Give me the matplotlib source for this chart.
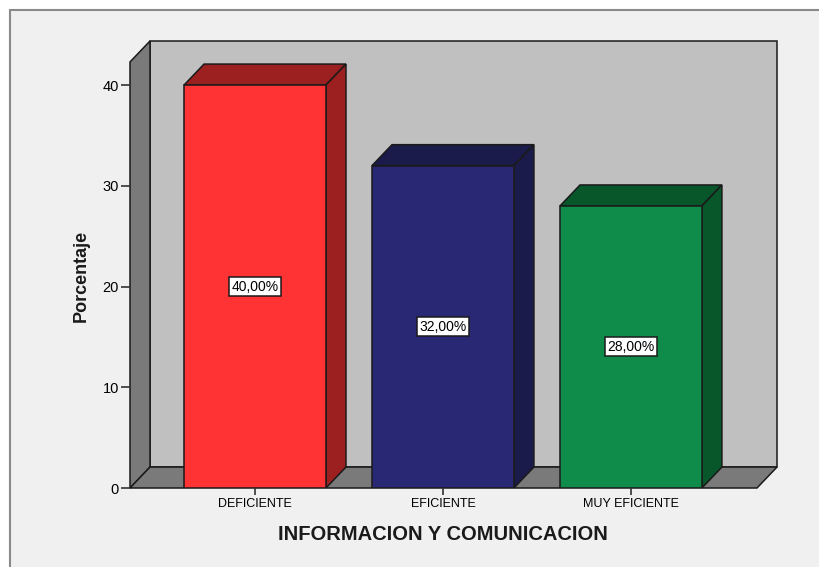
"""SPSS style 3D bar chart: INFORMACION Y COMUNICACION."""

import matplotlib.pyplot as plt
from matplotlib.patches import Polygon, Rectangle

categories = ["DEFICIENTE", "EFICIENTE", "MUY EFICIENTE"]
percentages = [40.0, 32.0, 28.0]
y_ticks = [0, 10, 20, 30, 40]

front_colors = ["#FF3333", "#282874", "#0F8C49"]
shade_colors = ["#9C2020", "#1B1B4B", "#07572B"]

plt.rcParams["font.family"] = ["Liberation Sans", "DejaVu Sans"]

W, H = 820, 567
fig = plt.figure(figsize=(W / 100, H / 100), dpi=100, facecolor="white")

# outer frame of the SPSS viewer
fig.patches.append(Rectangle((10 / W, -0.1), 1.2, 1 - 10 / H + 0.1, transform=fig.transFigure,
                             facecolor="#F0F0F0", edgecolor="#8A8A8A", linewidth=1.5, zorder=-5))

ax = fig.add_axes([130 / W, 79 / H, 647 / W, 447 / H])
ax.set_zorder(2)
ax.set_facecolor("none")
x_lo, x_hi = -0.665, 2.777
y_top = 44.37
dx, dy = 0.1064, 2.08
ax.set_xlim(x_lo, x_hi)
ax.set_ylim(0, y_top)
for s in ax.spines.values():
    s.set_visible(False)

edge = dict(edgecolor="#1A1A1A", linewidth=1.1, joinstyle="miter")
# back wall, left wall, floor
ax.add_patch(Polygon([(x_lo + dx, dy), (x_hi, dy), (x_hi, y_top), (x_lo + dx, y_top)],
                     facecolor="#C0C0C0", zorder=1, clip_on=False, **edge))
ax.add_patch(Polygon([(x_lo, 0), (x_lo + dx, dy), (x_lo + dx, y_top), (x_lo, y_top - dy)],
                     facecolor="#7A7A7A", zorder=1, clip_on=False, **edge))
ax.add_patch(Polygon([(x_lo, 0), (x_lo + dx, dy), (x_hi, dy), (x_hi - dx, 0)],
                     facecolor="#7A7A7A", zorder=1, clip_on=False, **edge))

bw = 0.755
for i, (v, fc, sc) in enumerate(zip(percentages, front_colors, shade_colors)):
    l, r = i - bw / 2, i + bw / 2
    ax.add_patch(Polygon([(l, v), (l + dx, v + dy), (r + dx, v + dy), (r, v)],
                         facecolor=sc, zorder=3, **edge))
    ax.add_patch(Polygon([(r, 0), (r + dx, dy), (r + dx, v + dy), (r, v)],
                         facecolor=sc, zorder=3, **edge))
    ax.add_patch(Rectangle((l, 0), bw, v, facecolor=fc, zorder=4, **edge))
    ax.text(i, v / 2, f"{v:.2f}%".replace(".", ","), ha="center", va="center",
            fontsize=10, color="black", zorder=6,
            bbox=dict(boxstyle="square,pad=0.18", facecolor="white", edgecolor="#1A1A1A", linewidth=1.1))

ax.set_xticks(range(len(categories)))
ax.set_xticklabels(categories, fontsize=9)
ax.set_yticks(y_ticks)
ax.set_yticklabels([str(t) for t in y_ticks], fontsize=10.5)
ax.tick_params(axis="y", direction="out", length=6.5, width=1.2, color="#333333", pad=1.5)
ax.tick_params(axis="x", direction="out", length=5, width=1.2, color="#333333", pad=2)

fig.text(443 / W, 1 - 534 / H, "INFORMACION Y COMUNICACION", ha="center", va="center",
         fontsize=14.5, fontweight="bold", color="#1A1A1A")
fig.text(81 / W, 1 - 276 / H, "Porcentaje", ha="center", va="center", rotation=90,
         fontsize=13, fontweight="bold", color="#1A1A1A")

fig.savefig("out.png", dpi=100, facecolor="white")
